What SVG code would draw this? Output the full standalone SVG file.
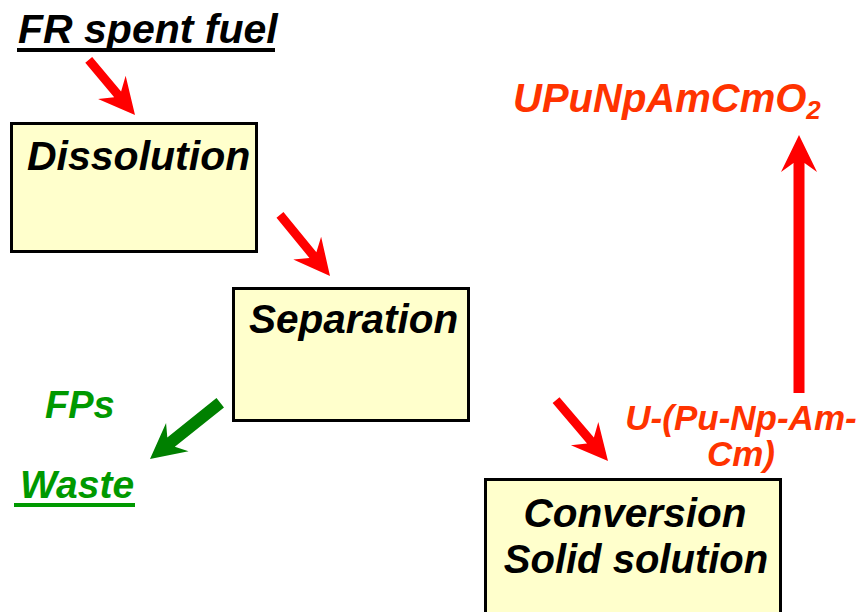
<svg xmlns="http://www.w3.org/2000/svg" width="859" height="612" viewBox="0 0 859 612">
<style>
.box{fill:#FFFFCC;stroke:#000;stroke-width:3}
.t{font-family:"Liberation Sans",Arial,sans-serif;font-weight:bold;font-style:italic}
.blk{fill:#000}
.org{fill:#FF3300}
.grn{fill:#009900}
.ar{fill:#FF0000}
.ag{fill:#008000}
</style>
<rect width="859" height="612" fill="#fff"/>
<g id="title">
<text class="t blk" x="18" y="43" font-size="41">FR spent fuel</text>
<rect x="17" y="48" width="258" height="4" fill="#000"/>
</g>
<g id="dissolution">
<rect class="box" x="11.5" y="123.5" width="245" height="128"/>
<text class="t blk" x="27" y="170" font-size="41">Dissolution</text>
</g>
<g id="separation">
<rect class="box" x="233.5" y="288.5" width="235" height="132"/>
<text class="t blk" x="249" y="333" font-size="40.5">Separation</text>
</g>
<g id="conversion">
<rect class="box" x="485.5" y="479.5" width="295" height="150"/>
<text class="t blk" x="635" y="527" font-size="40.5" text-anchor="middle">Conversion</text>
<text class="t blk" x="636" y="573" font-size="40" text-anchor="middle">Solid solution</text>
</g>
<g id="waste">
<text class="t grn" x="45" y="418" font-size="38">FPs</text>
<text class="t grn" x="20" y="498" font-size="39">Waste</text>
<rect x="14" y="503" width="121" height="4" fill="#009900"/>
</g>
<g id="solidsolution-label">
<text class="t org" x="741" y="430" font-size="35" text-anchor="middle">U-(Pu-Np-Am-</text>
<text class="t org" x="741" y="466" font-size="35" text-anchor="middle">Cm)</text>
</g>
<g id="product">
<text class="t org" x="513" y="112" font-size="40">UPuNpAmCmO<tspan font-size="26" dy="7">2</tspan></text>
</g>
<g id="connectors">
<polygon class="ar" transform="translate(135,115) rotate(50)" points="0,0 -36,-18 -27,-4.5 -72,-4.5 -72,4.5 -27,4.5 -36,18"/>
<polygon class="ar" transform="translate(330,276) rotate(50.7)" points="0,0 -36,-18 -27,-4.5 -79,-4.5 -79,4.5 -27,4.5 -36,18"/>
<polygon class="ar" transform="translate(608,461) rotate(49.5)" points="0,0 -36,-18 -27,-4.5 -80,-4.5 -80,4.5 -27,4.5 -36,18"/>
<polygon class="ag" transform="translate(150,459) rotate(141.3)" points="0,0 -35,-18 -27,-6 -90,-6 -90,6 -27,6 -35,18"/>
<polygon class="ar" transform="translate(799,135) rotate(-90)" points="0,0 -37,-18 -28,-5.5 -258,-5.5 -258,5.5 -28,5.5 -37,18"/>
</g>
</svg>
